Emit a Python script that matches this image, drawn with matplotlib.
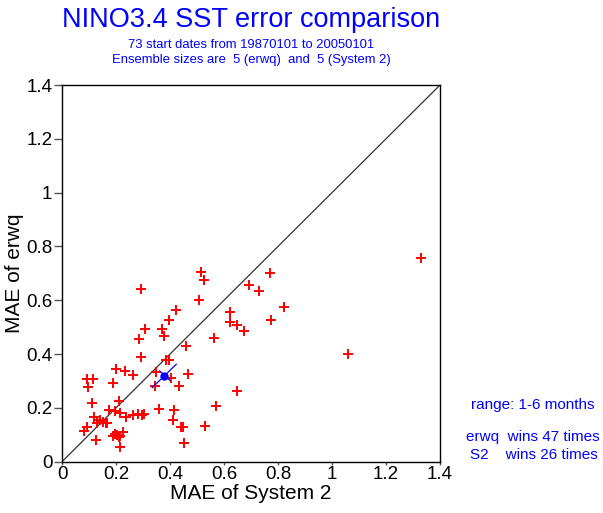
import matplotlib
matplotlib.use("Agg")
import matplotlib.pyplot as plt
import numpy as np

plt.rcParams['font.family'] = ['Liberation Sans', 'DejaVu Sans']

# MAE of System 2 (x) and MAE of erwq (y) for each start date
mae_s2 = [0.515, 0.526, 0.292, 0.694, 0.730, 0.506, 0.421, 0.623, 0.396, 0.623,
          0.649, 0.674, 0.309, 0.371, 0.378, 0.286, 0.563, 0.460, 0.293, 0.385,
          0.397, 0.199, 0.233, 0.262, 0.347, 0.466, 0.093, 0.115, 0.096, 0.188,
          0.344, 0.403, 0.433, 0.648, 0.111, 0.212, 0.569, 0.174, 0.197, 0.215,
          0.358, 0.415, 0.117, 0.140, 0.151, 0.163, 0.130, 0.237, 0.264, 0.281,
          0.295, 0.304, 0.410, 0.091, 0.083, 0.125, 0.196, 0.205, 0.227, 0.210,
          0.215, 0.441, 0.449, 0.531, 0.452, 0.190, 1.330, 1.058, 0.769, 0.823,
          0.775, 0.165, 0.215]
mae_erwq = [0.704, 0.675, 0.641, 0.657, 0.635, 0.600, 0.563, 0.555, 0.526, 0.520,
            0.508, 0.487, 0.493, 0.492, 0.467, 0.457, 0.460, 0.429, 0.389, 0.378,
            0.378, 0.345, 0.336, 0.323, 0.333, 0.327, 0.307, 0.307, 0.278, 0.291,
            0.281, 0.310, 0.283, 0.264, 0.219, 0.225, 0.208, 0.192, 0.190, 0.180,
            0.197, 0.193, 0.167, 0.155, 0.146, 0.144, 0.144, 0.165, 0.172, 0.176,
            0.172, 0.176, 0.155, 0.128, 0.115, 0.080, 0.103, 0.099, 0.110, 0.091,
            0.054, 0.128, 0.128, 0.133, 0.071, 0.094, 0.756, 0.400, 0.703, 0.574,
            0.528, 0.145, 0.097]

# mean point and its uncertainty segments
mean_xy = (0.379, 0.320)
seg_long_x = [0.334, 0.423]
seg_long_y = [0.275, 0.362]
seg_short_x = [0.362, 0.400]
seg_short_y = [0.337, 0.302]

ticks = [0, 0.2, 0.4, 0.6, 0.8, 1.0, 1.2, 1.4]
tick_labels = ['0', '0.2', '0.4', '0.6', '0.8', '1', '1.2', '1.4']

fig = plt.figure(figsize=(6.03, 5.13), dpi=100)
ax = fig.add_axes([62/603, 1-461.7/513, 378/603, (461.7-85)/513])

ax.plot([0, 1.4], [0, 1.4], color='#333333', lw=0.9, zorder=2)
ax.plot(mae_s2, mae_erwq, linestyle='none', marker='+', color='red',
        markersize=7, markeredgewidth=1.4, zorder=3)
ax.plot(seg_long_x, seg_long_y, color='blue', lw=0.9, zorder=4)
ax.plot(seg_short_x, seg_short_y, color='blue', lw=0.9, zorder=4)
ax.plot([mean_xy[0]], [mean_xy[1]], marker='o', color='blue', markersize=5, zorder=5)

ax.set_xlim(0, 1.4)
ax.set_ylim(0, 1.4)
ax.set_xticks(ticks)
ax.set_xticklabels(tick_labels)
ax.set_yticks(ticks)
ax.set_yticklabels(tick_labels)
ax.tick_params(axis='y', direction='out', length=6, width=1, color='#555555',
               labelsize=13.5, pad=1)
ax.tick_params(axis='x', direction='out', length=2.5, width=1, color='#555555',
               labelsize=13.5, pad=0.5)
for s in ax.spines.values():
    s.set_linewidth(1)
    s.set_color('black')

ax.set_xlabel('MAE of System 2', fontsize=15, labelpad=1)
ax.set_ylabel('MAE of erwq', fontsize=15, va='center')
ax.yaxis.set_label_coords((15 - 62) / 378, 0.5)

fig.text(251/603, 1-20/513, 'NINO3.4 SST error comparison', color='blue',
         fontsize=19.5, ha='center', va='center')
fig.text(251/603, 1-45/513, '73 start dates from 19870101 to 20050101', color='blue',
         fontsize=9.4, ha='center', va='center')
fig.text(251/603, 1-60/513, 'Ensemble sizes are  5 (erwq)  and  5 (System 2)', color='blue',
         fontsize=9.4, ha='center', va='center')

fig.text(533/603, 1-405/513, 'range: 1-6 months', color='blue', fontsize=11,
         ha='center', va='center')
fig.text(466/603, 1-437/513, 'erwq  wins 47 times', color='blue', fontsize=11,
         ha='left', va='center')
fig.text(470/603, 1-455/513, 'S2    wins 26 times', color='blue', fontsize=11,
         ha='left', va='center')

fig.savefig('out.png', dpi=100)
